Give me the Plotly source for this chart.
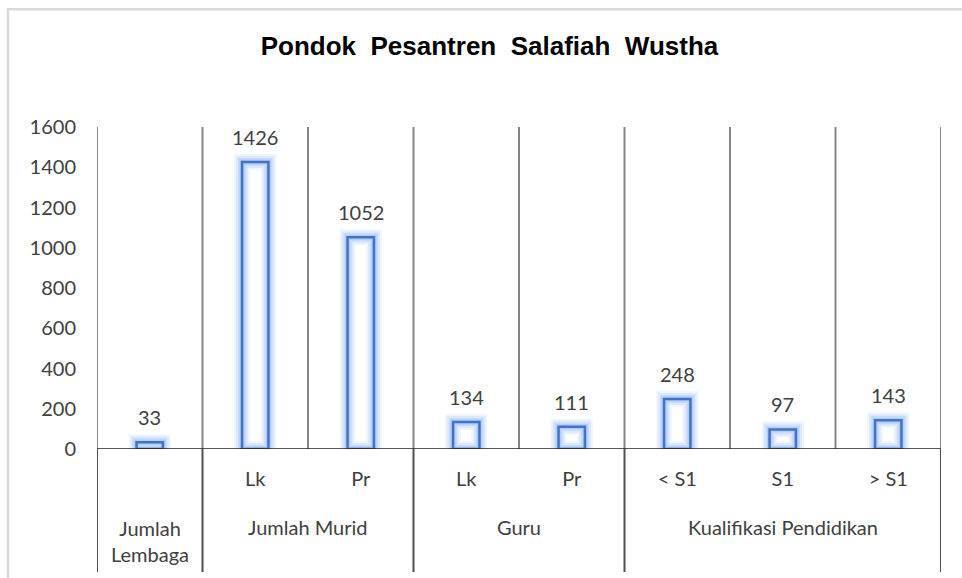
import plotly.graph_objects as go

# Data
sub_labels = ["", "Lk", "Pr", "Lk", "Pr", "< S1", "S1", "> S1"]
values = [33, 1426, 1052, 134, 111, 248, 97, 143]
groups = ["Jumlah<br>Lembaga", "Jumlah Murid", "Guru", "Kualifikasi Pendidikan"]
group_sizes = [1, 2, 2, 3]
y_ticks = [0, 200, 400, 600, 800, 1000, 1200, 1400, 1600]

title_text = "Pondok&nbsp; Pesantren&nbsp; Salafiah&nbsp; Wustha"

FONT = "Lato"
TEXT_COLOR = "#404040"
BAR_BLUE = "#4472C4"
BAR_WIDTH = 0.25

x_pos = list(range(len(values)))

fig = go.Figure()

# soft glow around each bar, built from progressively thinner translucent outlines
for lw, alpha in [(16, 0.12), (12, 0.18), (8, 0.25), (5, 0.30)]:
    fig.add_trace(go.Bar(
        x=x_pos, y=values, width=BAR_WIDTH,
        marker=dict(color="rgba(0,0,0,0)",
                    line=dict(color=f"rgba(130,175,250,{alpha})", width=lw)),
        hoverinfo="skip", showlegend=False,
    ))

# main outlined bars
fig.add_trace(go.Bar(
    x=x_pos, y=values, width=BAR_WIDTH,
    marker=dict(color="rgba(255,255,255,0)", line=dict(color=BAR_BLUE, width=2.5)),
    showlegend=False,
))

# value labels above bars
for xi, v in zip(x_pos, values):
    fig.add_annotation(x=xi, y=v, xref="x", yref="y", text=str(v),
                       showarrow=False, yanchor="bottom", yshift=11,
                       font=dict(family=FONT, size=20, color=TEXT_COLOR))

n = len(values)
y_max = y_ticks[-1]

# vertical gridlines on the category boundaries
for i in range(n + 1):
    fig.add_shape(type="line", xref="x", yref="y",
                  x0=i - 0.5, x1=i - 0.5, y0=0, y1=y_max,
                  line=dict(color="#868686", width=2))

# group dividers below the axis and group labels
label_depth = -0.382
edges = [0]
for s in group_sizes:
    edges.append(edges[-1] + s)
for e in edges:
    fig.add_shape(type="line", xref="x", yref="paper",
                  x0=e - 0.5, x1=e - 0.5, y0=0, y1=label_depth,
                  line=dict(color="#505050", width=2))
for g, a, b in zip(groups, edges[:-1], edges[1:]):
    center = (a + b - 1) / 2
    two_line = "<br>" in g
    fig.add_annotation(x=center, y=-0.287 if two_line else -0.242,
                       xref="x", yref="paper", text=g, showarrow=False,
                       yanchor="middle", xanchor="center",
                       font=dict(family=FONT, size=20, color=TEXT_COLOR))

# horizontal category axis line
fig.add_shape(type="line", xref="paper", yref="y", x0=0, x1=1, y0=0, y1=0,
              line=dict(color="#202020", width=1.5))

# chart-area border
fig.add_shape(type="rect", xref="paper", yref="paper",
              x0=-0.1055, x1=1.2, y0=-0.6, y1=1.366,
              line=dict(color="#d9d9d9", width=2.5), fillcolor="rgba(0,0,0,0)",
              layer="below")

fig.update_layout(
    width=962, height=578,
    margin=dict(l=97, r=21, t=127, b=129),
    paper_bgcolor="white", plot_bgcolor="white",
    barmode="overlay",
    title=dict(text=title_text, xref="container", yref="container",
               x=489.5 / 962, y=1 - 46 / 578, xanchor="center", yanchor="middle",
               font=dict(family="Liberation Sans", size=26, color="black", weight="bold")),
    xaxis=dict(range=[-0.5, n - 0.5], tickvals=x_pos, ticktext=sub_labels,
               showgrid=False, zeroline=False, showline=False, ticks="",
               ticklabelstandoff=16,
               tickfont=dict(family=FONT, size=20, color=TEXT_COLOR)),
    yaxis=dict(range=[0, y_max], tickvals=y_ticks, showgrid=False,
               zeroline=False, showline=False, ticks="",
               ticklabelstandoff=20,
               tickfont=dict(family=FONT, size=20, color=TEXT_COLOR)),
    showlegend=False,
)

fig.write_html("out.html")
